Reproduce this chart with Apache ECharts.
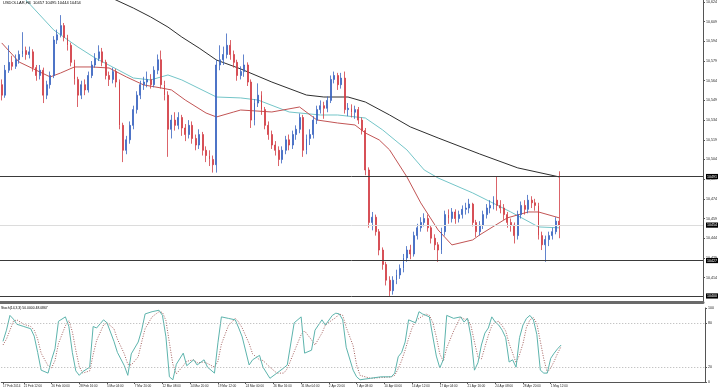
<!DOCTYPE html>
<html><head><meta charset="utf-8">
<script src="https://cdn.jsdelivr.net/npm/echarts@6/dist/echarts.min.js"></script>
<style>html,body{margin:0;padding:0;background:#fff}#c{width:720px;height:391px}</style>
</head><body><div id="c"></div>
<script>
// ---- OHLC (H4 candles, every 2nd bar) ----
const opens=[10561,10553,10572,10578,10575,10580,10584,10587,10584,10586,10574,10568,10572,10553,10561,10568,10595,10599,10606,10597,
10591,10578,10565,10553,10561,10557,10568,10576,10581,10586,10578,10568,10565,10571,10563,10530,10511,10519,10530,10542,
10553,10561,10563,10565,10561,10572,10580,10561,10553,10527,10534,10530,10536,10528,10523,10530,10520,10515,10523,10511,
10507,10504,10500,10576,10580,10584,10591,10584,10578,10568,10571,10576,10563,10534,10547,10553,10542,10530,10523,10515,
10511,10504,10511,10519,10515,10523,10527,10536,10511,10520,10523,10534,10542,10545,10543,10549,10565,10568,10561,10566,
10542,10543,10540,10542,10534,10526,10496,10456,10460,10449,10435,10424,10412,10404,10412,10416,10421,10429,10435,10432,
10446,10452,10456,10459,10452,10444,10439,10435,10449,10462,10459,10464,10459,10462,10466,10467,10470,10456,10449,10454,
10462,10467,10469,10473,10469,10467,10462,10456,10454,10446,10462,10469,10466,10473,10471,10469,10446,10439,10443,10446,
10449,10457];
const closes=[10553,10572,10578,10575,10580,10584,10587,10584,10586,10574,10568,10572,10553,10561,10568,10595,10599,10606,10597,10591,
10578,10565,10553,10561,10557,10568,10576,10581,10586,10578,10568,10565,10571,10563,10530,10511,10519,10530,10542,10553,
10561,10563,10565,10561,10572,10580,10561,10553,10527,10534,10530,10536,10528,10523,10530,10520,10515,10523,10511,10507,
10504,10500,10576,10580,10584,10591,10584,10578,10568,10571,10576,10563,10534,10547,10553,10542,10530,10523,10515,10511,
10504,10511,10519,10515,10523,10527,10536,10511,10520,10523,10534,10542,10545,10543,10549,10565,10568,10561,10566,10542,
10543,10540,10542,10534,10526,10496,10456,10460,10449,10435,10424,10412,10404,10412,10416,10421,10429,10435,10432,10446,
10452,10456,10459,10452,10444,10439,10435,10449,10462,10459,10464,10459,10462,10466,10467,10470,10456,10449,10454,10462,
10467,10469,10473,10469,10467,10462,10456,10454,10446,10462,10469,10466,10473,10471,10469,10446,10439,10443,10446,10449,
10457,10454];
const lows=[10549,10551,10570,10572,10573,10577,10582,10580,10581,10571,10564,10565,10547,10550,10558,10566,10592,10597,10594,10587,
10575,10561,10544,10550,10553,10555,10566,10574,10579,10575,10565,10560,10562,10559,10527,10502,10508,10516,10527,10539,
10550,10557,10559,10558,10559,10569,10558,10549,10506,10520,10526,10527,10522,10518,10520,10516,10511,10512,10507,10502,
10499,10494,10494,10572,10576,10581,10580,10574,10564,10565,10567,10560,10528,10530,10544,10538,10527,10519,10512,10507,
10499,10501,10508,10511,10512,10519,10524,10506,10508,10515,10520,10531,10539,10535,10540,10547,10562,10557,10558,10539,
10537,10536,10535,10531,10523,10492,10452,10450,10446,10431,10420,10408,10400,10401,10409,10413,10418,10426,10428,10430,
10443,10449,10453,10449,10440,10435,10426,10432,10446,10455,10456,10455,10456,10459,10462,10463,10453,10445,10446,10451,
10459,10463,10466,10465,10463,10458,10452,10449,10440,10443,10459,10462,10463,10467,10465,10443,10435,10426,10438,10443,
10447,10444];
const highs=[10565,10576,10591,10583,10584,10587,10601,10590,10590,10588,10576,10576,10574,10564,10571,10598,10603,10614,10608,10599,
10593,10580,10567,10564,10565,10571,10579,10585,10591,10589,10580,10571,10574,10573,10565,10532,10522,10533,10545,10556,
10564,10567,10571,10569,10575,10584,10587,10564,10556,10538,10540,10540,10538,10531,10534,10533,10523,10527,10525,10514,
10511,10507,10580,10591,10590,10600,10595,10587,10580,10575,10584,10578,10565,10550,10562,10556,10544,10533,10526,10518,
10514,10514,10522,10523,10526,10530,10539,10538,10523,10527,10537,10545,10549,10548,10552,10568,10571,10570,10570,10571,
10547,10546,10545,10544,10536,10528,10498,10464,10462,10451,10437,10426,10415,10415,10420,10424,10432,10438,10439,10449,
10455,10460,10463,10462,10454,10447,10441,10452,10465,10466,10467,10466,10465,10469,10471,10474,10471,10458,10457,10465,
10470,10473,10476,10491,10473,10470,10464,10459,10456,10465,10472,10473,10477,10476,10474,10471,10449,10446,10449,10452,
10460,10495];

// ---- moving averages: [bar index, value] ----
const maSlowIdx=[28,33,38,43,48,52,57,62,69,78,88,93,100,105,112,118,126,138,149,161];
const maSlowVal=[10632,10625.5,10619.4,10612.6,10604.9,10597.3,10588.9,10579.8,10573,10563,10553.1,10551.6,10551.6,10547.8,10537.9,10528.8,10520.4,10508.2,10497.6,10490.7];
const maMidIdx=[4,7,15,22,27,32,38,43,48,52,62,69,74,83,92,97,105,110,117,122,126,136,147,155,161];
const maMidVal=[10634.6,10625.5,10602.7,10589.7,10581.3,10574.5,10566.1,10564.6,10568.4,10564.6,10551.6,10550.9,10549.3,10540.2,10537.9,10537.9,10535.6,10526.5,10511.3,10496,10489.9,10478.5,10464,10452.6,10451.9];
const maFastIdx=[0,5,11,14,17,21,26,31,36,41,46,49,53,59,62,67,69,78,86,91,97,102,105,109,112,117,121,126,130,136,138,146,152,155,161];
const maFastVal=[10592.8,10578.3,10570.7,10566.9,10569.9,10574.5,10574.5,10573.7,10566.9,10560.8,10558.5,10557,10549.3,10539.4,10536.4,10540.2,10541.7,10540.2,10544,10534.1,10531.8,10530.3,10524.2,10518.9,10511.3,10490.7,10470.9,10450.3,10438.9,10442.7,10446.5,10459.5,10464,10464,10459.5];

// ---- stochastic (14,3,3) ----
const stochIdx=[0,1,2,3,4,6,8,9,10,11,13,14,15,16,18,19,20,21,22,23,25,26,27,29,30,32,33,35,36,37,39,40,41,43,45,46,47,48,49,50,
52,53,55,56,58,59,61,62,63,65,67,68,69,71,72,74,75,77,79,81,82,84,86,87,89,90,92,93,95,96,97,98,99,101,102,103,106,109,112,113,
114,115,116,117,118,119,120,121,122,123,124,125,126,127,128,130,132,133,134,135,136,137,138,139,140,141,142,143,144,145,146,147,148,149,150,151,152,153,154,155,
156,157,158,159,160,161];
const stochMain=[55,70,90,85,78,75,72,62,40,16,12,30,45,82,88,75,40,15,9,14,20,75,73,84,80,55,40,22,9,38,54,70,92,95,97,90,61,7,3,24,
39,22,30,23,30,20,12,53,88,86,84,73,61,23,30,36,20,5,12,19,23,80,88,39,43,70,84,77,90,93,92,84,47,16,7,3,5,7,7,12,
34,40,54,84,82,80,95,92,90,88,61,35,19,30,90,86,88,81,86,61,16,26,50,66,73,88,81,77,70,60,27,30,20,60,77,86,90,84,64,16,
12,12,32,39,45,50];
const stochSignal=[50,58,70,82,84,78,75,70,58,39,22,19,29,52,76,83,68,43,21,12,15,37,56,77,80,72,58,38,24,23,34,54,72,88,95,94,83,53,24,11,
22,28,30,26,27,25,20,28,51,76,86,81,73,52,38,30,29,20,12,12,18,41,64,69,57,50,66,77,84,87,92,90,74,49,23,9,5,6,7,9,
18,29,43,59,73,82,86,89,92,90,80,61,38,28,46,69,88,85,85,76,54,34,31,47,63,76,81,82,76,69,52,39,26,37,52,74,84,87,79,55,
31,13,19,28,39,48];

// ---- axes text ----
const priceTicks=[10624,10609,10594,10579,10564,10549,10534,10519,10504,10489,10474,10459,10444,10429,10414];
const levelValues=[10491,10454,10427,10400];
const levelColors=['#3a3a3a','#dcdcdc','#3a3a3a','#3a3a3a'];
const stochTicks=[100,80,20,0];
const stochLevels=[80,20];
const labelIdx=[0,6,14,22,30,38,46,54,62,70,78,86,94,102,110,118,126,134,142,150,158];
const timeLabels=["17 Feb 2014","21 Feb 12:00","26 Feb 00:00","28 Feb 16:00","5 Mar 04:00","7 Mar 20:00","12 Mar 08:00","14 Mar 20:00","19 Mar 12:00","24 Mar 00:00","26 Mar 16:00","31 Mar 04:00","2 Apr 20:00","7 Apr 08:00","10 Apr 00:00","14 Apr 12:00","17 Apr 04:00","21 Apr 16:00","24 Apr 08:00","28 Apr 20:00","1 May 12:00"];
const headerText="USDOLLAR,H4  10457 10495 10444 10454";
const stochText="Stoch(14,3,3) 50.0000 48.0867";
const totalSlots=203; // includes right-hand chart shift

const cats=[];
for(let i=0;i<totalSlots;i++){cats.push('');}
labelIdx.forEach((ix,k)=>{cats[ix]=timeLabels[k];});
const labelSet=new Set(labelIdx);
const candles=opens.map((o,i)=>[o,closes[i],lows[i],highs[i]]);
const pairs=(ix,v)=>ix.map((x,k)=>[x,v[k]]);
const F='Liberation Sans';

const chart=echarts.init(document.getElementById('c'),null,{renderer:'canvas'});
chart.setOption({
  animation:false,
  backgroundColor:'#fff',
  title:[
    {text:headerText,left:3,top:1,padding:0,textStyle:{fontSize:4,fontWeight:'normal',color:'#000',fontFamily:F}},
    {text:stochText,left:1,top:307,padding:0,textStyle:{fontSize:3.4,fontWeight:'normal',color:'#000',fontFamily:F}}
  ],
  grid:[
    {left:0,right:15,top:0,height:302},
    {left:0,right:15,top:308,height:74}
  ],
  xAxis:[
    {type:'category',gridIndex:0,data:cats,boundaryGap:true,
     axisLine:{show:true,lineStyle:{color:'#6a6a6a',width:3}},axisTick:{show:false},axisLabel:{show:false},splitLine:{show:false}},
    {type:'category',gridIndex:1,data:cats,boundaryGap:true,
     axisLine:{show:true,lineStyle:{color:'#555',width:1}},
     axisTick:{show:true,length:2,interval:(i)=>labelSet.has(i),alignWithLabel:true,lineStyle:{color:'#555'}},
     axisLabel:{show:true,interval:(i)=>labelSet.has(i),align:'left',fontSize:3.1,margin:3,color:'#222',fontFamily:F},
     splitLine:{show:false}}
  ],
  yAxis:[
    {type:'value',gridIndex:0,position:'right',min:10395.4,max:10625.5,
     axisLine:{show:true,lineStyle:{color:'#555'}},
     axisTick:{show:true,length:2,customValues:priceTicks,lineStyle:{color:'#555'}},
     axisLabel:{show:true,customValues:priceTicks,fontSize:3.6,margin:3,color:'#222',fontFamily:F},
     splitLine:{show:false}},
    {type:'value',gridIndex:1,position:'right',min:0,max:100,
     axisLine:{show:true,lineStyle:{color:'#555'}},
     axisTick:{show:true,length:2,customValues:stochTicks,lineStyle:{color:'#555'}},
     axisLabel:{show:true,customValues:stochTicks,fontSize:3.6,margin:3,color:'#222',fontFamily:F},
     splitLine:{show:false}}
  ],
  series:[
    {type:'line',xAxisIndex:0,yAxisIndex:0,data:pairs(maSlowIdx,maSlowVal),symbol:'none',clip:true,
     lineStyle:{color:'#2e2e2e',width:1},z:2},
    {type:'line',xAxisIndex:0,yAxisIndex:0,data:pairs(maMidIdx,maMidVal),symbol:'none',clip:true,
     lineStyle:{color:'#74c5c8',width:1},z:2},
    {type:'line',xAxisIndex:0,yAxisIndex:0,data:pairs(maFastIdx,maFastVal),symbol:'none',clip:true,
     lineStyle:{color:'#c25555',width:1},z:2},
    {type:'candlestick',xAxisIndex:0,yAxisIndex:0,data:candles,barWidth:1.4,z:3,
     itemStyle:{color:'#3a64c0',color0:'#d23c44',borderColor:'#3a64c0',borderColor0:'#d23c44',borderWidth:0.8},
     markLine:{silent:true,symbol:'none',precision:0,
       data:levelValues.map((v,k)=>({yAxis:v,lineStyle:{color:levelColors[k],width:1,type:'solid'}})),
       label:{show:true,position:'end',distance:3,formatter:(p)=>String(p.value),color:'#fff',backgroundColor:'#000',
              padding:[0.6,1],fontSize:3.6,fontFamily:F}}},
    {type:'line',xAxisIndex:1,yAxisIndex:1,data:pairs(stochIdx,stochSignal),symbol:'none',
     lineStyle:{color:'#a4605e',width:1,type:[1,1.5]},z:2},
    {type:'line',xAxisIndex:1,yAxisIndex:1,data:pairs(stochIdx,stochMain),symbol:'none',
     lineStyle:{color:'#5db4ad',width:1},z:3,
     markLine:{silent:true,symbol:'none',label:{show:false},
       data:stochLevels.map(v=>({yAxis:v})),
       lineStyle:{color:'#b0b0b0',width:1,type:[1,2]}}}
  ]
});
</script>
</body></html>
